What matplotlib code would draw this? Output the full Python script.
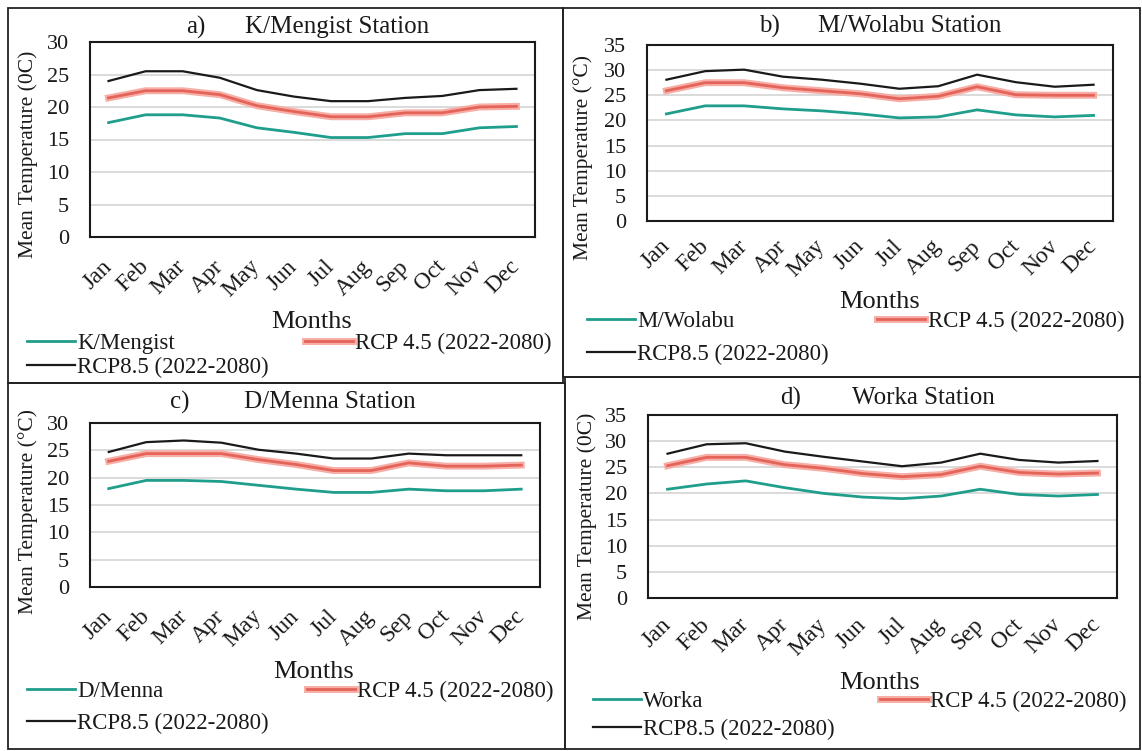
import matplotlib
matplotlib.use("Agg")
import matplotlib.pyplot as plt
import matplotlib.patheffects as pe
from matplotlib.patches import Rectangle

plt.rcParams['font.family'] = ['Liberation Serif', 'DejaVu Serif']
plt.rcParams['text.color'] = '#1a1a1a'
plt.rcParams['xtick.color'] = '#1a1a1a'
plt.rcParams['ytick.color'] = '#1a1a1a'

months = ["Jan", "Feb", "Mar", "Apr", "May", "Jun", "Jul", "Aug", "Sep", "Oct", "Nov", "Dec"]

# a) K/Mengist
kmen_obs = [17.6, 18.8, 18.8, 18.3, 16.8, 16.1, 15.3, 15.3, 15.9, 15.9, 16.8, 17.0]
kmen_45 = [21.4, 22.5, 22.5, 21.9, 20.2, 19.3, 18.5, 18.5, 19.1, 19.1, 20.0, 20.1]
kmen_85 = [24.0, 25.5, 25.5, 24.5, 22.6, 21.6, 20.9, 20.9, 21.4, 21.7, 22.6, 22.8]
# b) M/Wolabu
mwol_obs = [21.3, 22.9, 22.9, 22.3, 21.9, 21.3, 20.5, 20.7, 22.1, 21.1, 20.7, 21.0]
mwol_45 = [25.9, 27.5, 27.5, 26.5, 25.9, 25.3, 24.3, 24.8, 26.7, 25.1, 25.0, 25.0]
mwol_85 = [28.1, 29.8, 30.1, 28.7, 28.1, 27.3, 26.3, 26.8, 29.1, 27.6, 26.7, 27.1]
# c) D/Menna
dmen_obs = [18.0, 19.5, 19.5, 19.3, 18.6, 17.9, 17.3, 17.3, 17.9, 17.6, 17.6, 17.9]
dmen_45 = [23.0, 24.4, 24.4, 24.4, 23.3, 22.4, 21.3, 21.3, 22.7, 22.1, 22.1, 22.3]
dmen_85 = [24.7, 26.5, 26.8, 26.4, 25.1, 24.4, 23.5, 23.5, 24.4, 24.1, 24.1, 24.1]
# d) Worka
work_obs = [20.8, 21.8, 22.4, 21.1, 20.0, 19.3, 19.0, 19.5, 20.8, 19.8, 19.5, 19.8]
work_45 = [25.3, 26.9, 26.9, 25.5, 24.8, 23.8, 23.2, 23.6, 25.2, 24.0, 23.7, 23.9]
work_85 = [27.6, 29.4, 29.6, 28.0, 27.0, 26.1, 25.2, 25.9, 27.6, 26.4, 25.9, 26.2]

W, H = 1142, 751
fig = plt.figure(figsize=(W / 100, H / 100), dpi=100)
fig.patch.set_facecolor("white")

def fx(px):
    return px / W

def fy(py):
    return 1 - py / H

TEAL = "#1f9e8c"
RED = "#e5645a"
HALO = "#f6aea6"
FS_TICK = 17
FS_Y = 16
FS_LAB = 15.5
FS_TITLE = 18
FS_MON = 19
FS_LEG = 16.5

panels = [
    dict(tag="a)", name="K/Mengist Station", station="K/Mengist",
         obs=kmen_obs, r45=kmen_45, r85=kmen_85, ymax=30, ylabel="Mean Temperature (0C)",
         ax=(90, 535, 42, 237), tagx=196, namex=337, titley=27,
         ylx=28, yly=154, monx=312, mony=322,
         legx=27, legy=345, colsp=1.55, labsp=0.1, tickpad=19),
    dict(tag="b)", name="M/Wolabu Station", station="M/Wolabu",
         obs=mwol_obs, r45=mwol_45, r85=mwol_85, ymax=35, ylabel="Mean Temperature (\u00b0C)",
         ax=(647, 1113, 45, 221), tagx=769, namex=910, titley=26,
         ylx=583, yly=157, monx=880, mony=302,
         legx=587, legy=323, colsp=2.1, labsp=0.5, tickpad=16),
    dict(tag="c)", name="D/Menna Station", station="D/Menna",
         obs=dmen_obs, r45=dmen_45, r85=dmen_85, ymax=30, ylabel="Mean Temperature (\u00b0C)",
         ax=(90, 540, 423, 587), tagx=180, namex=330, titley=402,
         ylx=28, yly=511, monx=314, mony=672,
         legx=27, legy=693, colsp=1.65, labsp=0.45, tickpad=19),
    dict(tag="d)", name="Worka Station", station="Worka",
         obs=work_obs, r45=work_45, r85=work_85, ymax=35, ylabel="Mean Temperature (0C)",
         ax=(648, 1117, 415, 598), tagx=791, namex=923, titley=398,
         ylx=587, yly=516, monx=880, mony=683,
         legx=593, legy=703, colsp=1.95, labsp=0.3, tickpad=17),
]

# panel frames
for (x0, y0, x1, y1) in [(8, 8, 563, 383), (563, 8, 1140, 377), (8, 383, 565, 749), (565, 377, 1140, 749)]:
    fig.add_artist(Rectangle((fx(x0), fy(y1)), fx(x1) - fx(x0), fy(y0) - fy(y1),
                             transform=fig.transFigure, fill=False, edgecolor="#222222", lw=1.3))

x = list(range(len(months)))
for p in panels:
    l, r, t, b = p["ax"]
    ax = fig.add_axes([fx(l), fy(b), fx(r) - fx(l), fy(t) - fy(b)])
    ax.set_xlim(-0.5, len(months) - 0.5)
    ax.set_ylim(0, p["ymax"])
    ax.set_yticks(range(0, p["ymax"] + 1, 5))
    ax.set_xticks(x)
    ax.set_xticklabels(months, rotation=45, ha="right", va="center", rotation_mode="anchor", fontsize=FS_TICK)
    ax.tick_params(axis="x", length=0, pad=p["tickpad"])
    ax.tick_params(axis="y", length=0, pad=15, labelsize=FS_Y)
    ax.grid(axis="y", color="#d4d4d4", lw=1.2)
    ax.set_axisbelow(True)
    for s in ax.spines.values():
        s.set_color("#1a1a1a")
        s.set_linewidth(1.5)

    h_obs, = ax.plot(x, p["obs"], color=TEAL, lw=2.0, label=p["station"])
    h45, = ax.plot(x, p["r45"], color=RED, lw=2.0, label="RCP 4.5 (2022-2080)",
                   path_effects=[pe.withStroke(linewidth=5, foreground=HALO)])
    h85, = ax.plot(x, p["r85"], color="#1a1a1a", lw=1.6, label="RCP8.5 (2022-2080)")

    fig.text(fx(p["tagx"]), fy(p["titley"]), p["tag"], ha="center", va="center", fontsize=FS_TITLE)
    fig.text(fx(p["namex"]), fy(p["titley"]), p["name"], ha="center", va="center", fontsize=FS_TITLE)
    fig.text(fx(p["ylx"]), fy(p["yly"]), p["ylabel"], rotation=90, ha="center", va="center", fontsize=FS_LAB)
    fig.text(fx(p["monx"]), fy(p["mony"]), "Months", ha="center", va="center", fontsize=FS_MON)

    ax.legend([h_obs, h85, h45], [h_obs.get_label(), h85.get_label(), h45.get_label()],
              loc="upper left", bbox_to_anchor=(fx(p["legx"]), fy(p["legy"] - 12)),
              bbox_transform=fig.transFigure, ncol=2, frameon=False, borderpad=0,
              borderaxespad=0, handlelength=2.1, handletextpad=0.1,
              columnspacing=p["colsp"], labelspacing=p["labsp"], fontsize=FS_LEG)

fig.savefig("out.png", dpi=100)
